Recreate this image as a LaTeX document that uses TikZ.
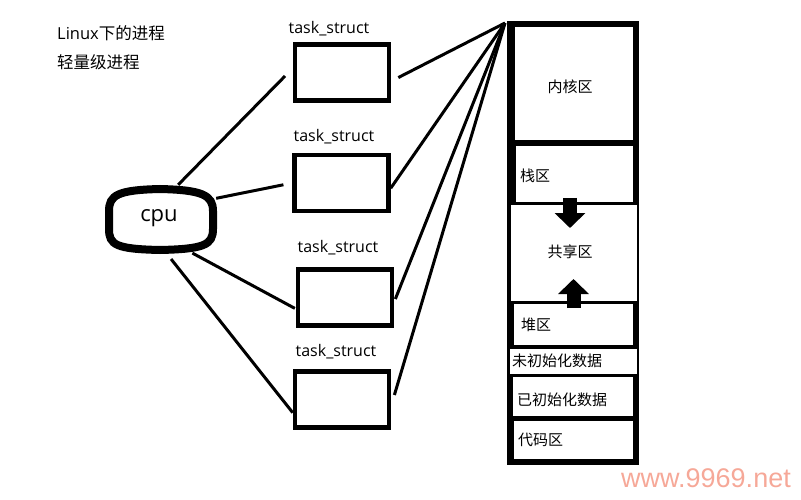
\documentclass[tikz,border=0pt]{standalone}
\usepackage{fontspec}
\setmainfont{Open Sans}
\newfontfamily\cjk{Noto Sans CJK SC}
\newfontfamily\wmfont{Liberation Sans}
\usetikzlibrary{arrows.meta}

\definecolor{wmark}{RGB}{246,168,152}

\tikzstyle{tbox}=[draw, line width=4.5pt, rectangle, minimum width=94pt, minimum height=56pt, inner sep=0pt]
\tikzstyle{tlabel}=[font=\fontsize{16}{19}\selectfont, inner sep=0pt]
\tikzstyle{link}=[line width=3pt]
\tikzstyle{zone}=[fill=white, rectangle, inner sep=0pt]
\tikzstyle{zonetext}=[font=\cjk\fontsize{15}{18}\selectfont, inner sep=0pt]
\tikzstyle{growth}=[line width=14pt, -{Triangle[width=30pt, length=15pt]}]

\begin{document}
\begin{tikzpicture}[x=1pt, y=-1pt]
    \useasboundingbox (0,0) rectangle (801,500);

    % title lines
    \node[zonetext, anchor=west, font=\cjk\fontsize{16.5}{19}\selectfont] (title1) at (57,33) {\fontspec{Open Sans}Linux{\cjk 下的进程}};
    \node[zonetext, anchor=west, font=\cjk\fontsize{16.5}{19}\selectfont] (title2) at (57,62) {轻量级进程};

    % cpu
    \node[minimum width=114pt, minimum height=66pt, inner sep=0pt, font=\fontsize{22}{26}\selectfont] (cpu) at (159,218) {cpu};
    \draw[line width=8pt] (109,211) .. controls (109,195) and (118,190) .. (160,189)
        .. controls (202,190) and (213,195) .. (213,211) -- (213,229)
        .. controls (213,245) and (204,249) .. (160,250)
        .. controls (116,249) and (109,245) .. (109,229) -- cycle;

    % task_struct boxes
    \node[tbox] (task1) at (342,72.5) {};
    \node[tbox] (task2) at (341.5,183) {};
    \node[tbox] (task3) at (345,297.5) {};
    \node[tbox] (task4) at (342,399.5) {};
    \node[tlabel] (name1) at (329,29) {task\_struct};
    \node[tlabel] (name2) at (334,137) {task\_struct};
    \node[tlabel] (name3) at (338,248) {task\_struct};
    \node[tlabel] (name4) at (336,352) {task\_struct};

    \draw[link, shorten >=11pt] (cpu.60) to (task1.175);
    \draw[link, shorten >=9pt] (cpu.19) to (task2.west);
    \draw[link, shorten <=4pt, shorten >=1pt] (cpu.-48) to (task3.193);
    \draw[link, shorten <=10pt] (cpu.-80) to (task4.195);

    % address space
    \coordinate (apex) at (505,23);
    \draw[link, shorten <=8pt] (task1.-10) to (apex);
    \draw[link] (task2.-6) to (apex);
    \draw[link, shorten <=3pt] (task3.-5) to (apex);
    \draw[link, shorten <=11pt] (task4.-7) to (apex);

    \fill[black] (507,21) rectangle (639,465);
    \node[zone, minimum width=118pt, minimum height=113pt] (kernel) at (574,83.5) {};
    \node[zone, minimum width=117pt, minimum height=56pt] (stack) at (574.5,174) {};
    \node[zone, minimum width=126pt, minimum height=96pt] (shared) at (574,253) {};
    \node[zone, minimum width=119pt, minimum height=41pt] (heap) at (573.5,324.5) {};
    \node[zone, minimum width=127pt, minimum height=25pt] (bss) at (573.5,361.5) {};
    \node[zone, minimum width=120pt, minimum height=39pt] (data) at (573,396.5) {};
    \node[zone, minimum width=119pt, minimum height=38pt] (code) at (573.5,440) {};

    \node[zonetext] (kerneltext) at (570,87) {内核区};
    \node[zonetext, anchor=west] (stacktext) at (520,176) {栈区};
    \node[zonetext] (sharedtext) at (570,252) {共享区};
    \node[zonetext, anchor=west] (heaptext) at (521,325) {堆区};
    \node[zonetext, anchor=west] (bsstext) at (512,361) {未初始化数据};
    \node[zonetext, anchor=west] (datatext) at (517,400) {已初始化数据};
    \node[zonetext, anchor=west] (codetext) at (518,440) {代码区};

    \draw[growth] (570,198) to (570,228);
    \draw[growth] (573.5,308) to (573.5,279);

    \node[font=\wmfont\fontsize{27}{30}\selectfont, text=wmark, anchor=east, inner sep=0pt] (site) at (791,478) {www.9969.net};
\end{tikzpicture}
\end{document}
